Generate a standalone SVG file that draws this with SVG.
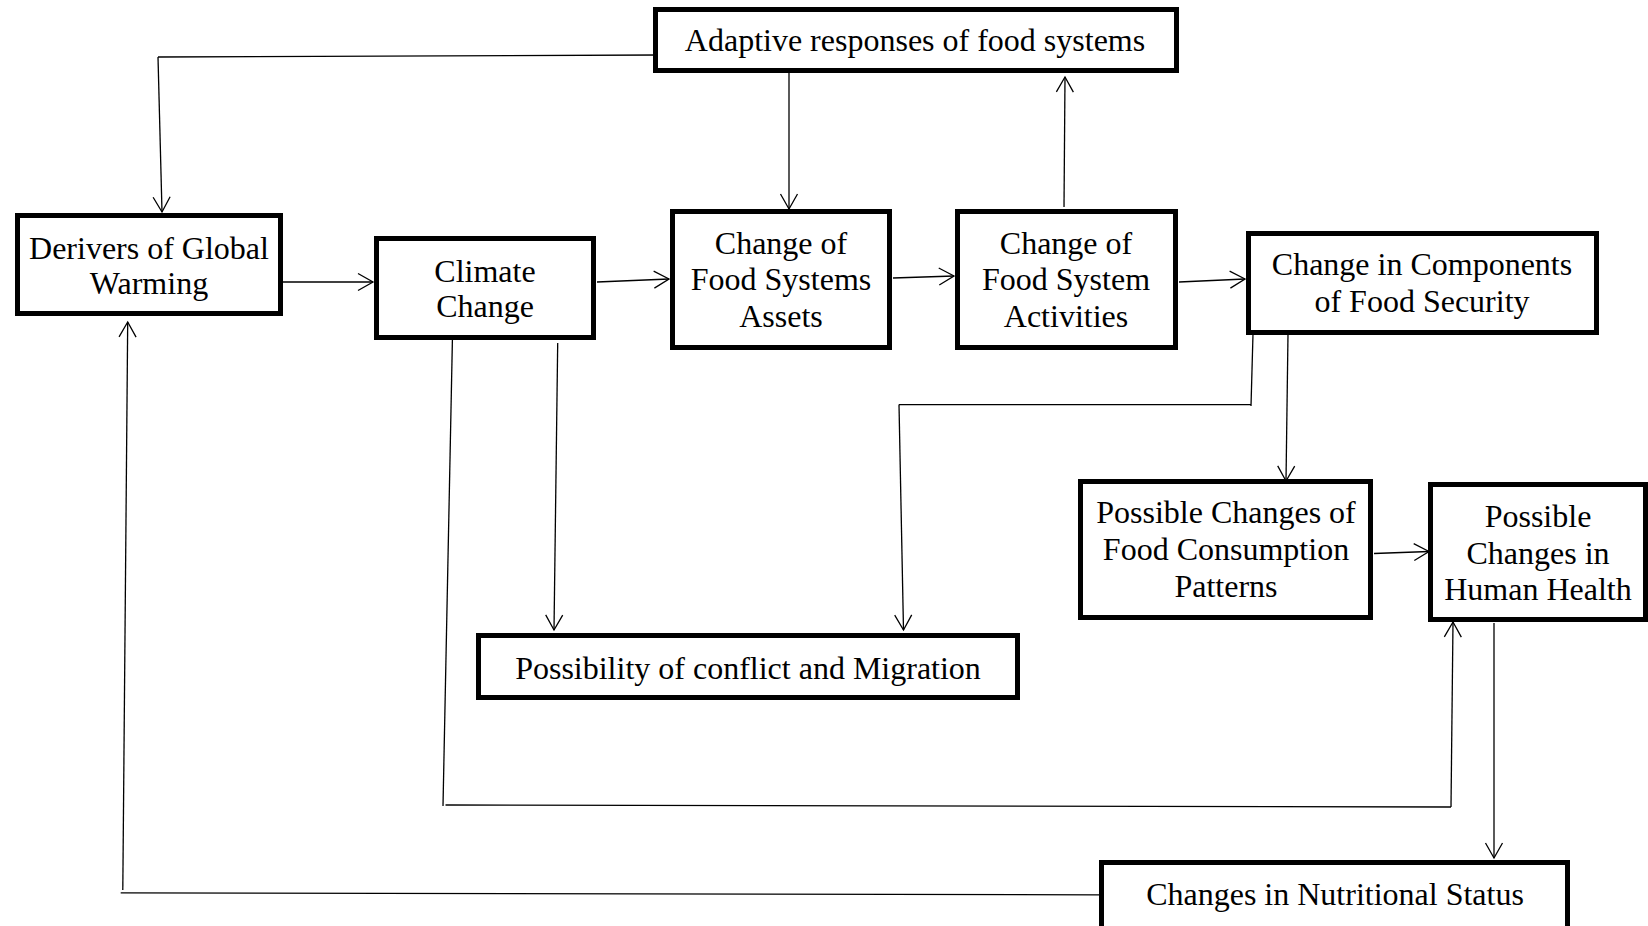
<svg xmlns="http://www.w3.org/2000/svg" width="1648" height="926" viewBox="0 0 1648 926">
<style>
.box{fill:#fff;stroke:#000;stroke-width:5}
.t{font-family:"Liberation Serif","Times New Roman",serif;font-size:32px;fill:#000;text-anchor:middle}
.c{fill:none;stroke:#000;stroke-width:1.3}
</style>
<defs>
<marker id="arr" markerUnits="userSpaceOnUse" viewBox="-17 -10 19 20" markerWidth="19" markerHeight="20" refX="0" refY="0" orient="auto">
<path d="M-15,-8.5 L0,0 L-15,8.5" fill="none" stroke="#000" stroke-width="1.3"/>
</marker>
</defs>
<rect width="1648" height="926" fill="#fff"/>
<g id="connectors">
<line class="c" x1="658" y1="55" x2="158" y2="57"/>
<line class="c" x1="158" y1="57" x2="162" y2="212" marker-end="url(#arr)"/>
<line class="c" x1="283" y1="282" x2="373" y2="282" marker-end="url(#arr)"/>
<line class="c" x1="597" y1="282" x2="669" y2="279" marker-end="url(#arr)"/>
<line class="c" x1="789" y1="73" x2="789" y2="209" marker-end="url(#arr)"/>
<line class="c" x1="893" y1="278" x2="954" y2="276" marker-end="url(#arr)"/>
<line class="c" x1="1064" y1="207" x2="1065" y2="77" marker-end="url(#arr)"/>
<line class="c" x1="1179" y1="282" x2="1245" y2="279" marker-end="url(#arr)"/>
<line class="c" x1="1253" y1="334" x2="1251" y2="406"/>
<line class="c" x1="1251" y1="404.6" x2="899" y2="404.6"/>
<line class="c" x1="899" y1="404.6" x2="903.5" y2="630" marker-end="url(#arr)"/>
<line class="c" x1="1288" y1="334" x2="1286" y2="481" marker-end="url(#arr)"/>
<line class="c" x1="557.7" y1="343" x2="554" y2="630" marker-end="url(#arr)"/>
<line class="c" x1="452.5" y1="335" x2="443" y2="806"/>
<line class="c" x1="445.5" y1="805" x2="1451" y2="807"/>
<line class="c" x1="1451" y1="807" x2="1453" y2="622" marker-end="url(#arr)"/>
<line class="c" x1="1374" y1="553.5" x2="1429" y2="551.5" marker-end="url(#arr)"/>
<line class="c" x1="1494" y1="623" x2="1494" y2="858" marker-end="url(#arr)"/>
<line class="c" x1="1100" y1="894.8" x2="120.7" y2="892.8"/>
<line class="c" x1="122.8" y1="890" x2="127.7" y2="322" marker-end="url(#arr)"/>
</g>
<g id="adaptive">
<rect class="box" x="655.5" y="9.5" width="521" height="61"/>
<text class="t" x="915" y="51">Adaptive responses of food systems</text>
</g>
<g id="derivers">
<rect class="box" x="17.5" y="215.5" width="263" height="98"/>
<text class="t" x="149" y="259">Derivers of Global</text>
<text class="t" x="149" y="294">Warming</text>
</g>
<g id="climate">
<rect class="box" x="376.5" y="238.5" width="217" height="99"/>
<text class="t" x="485" y="282">Climate</text>
<text class="t" x="485" y="317">Change</text>
</g>
<g id="assets">
<rect class="box" x="672.5" y="211.5" width="217" height="136"/>
<text class="t" x="781" y="254">Change of</text>
<text class="t" x="781" y="290">Food Systems</text>
<text class="t" x="781" y="327">Assets</text>
</g>
<g id="activities">
<rect class="box" x="957.5" y="211.5" width="218" height="136"/>
<text class="t" x="1066" y="254">Change of</text>
<text class="t" x="1066" y="290">Food System</text>
<text class="t" x="1066" y="327">Activities</text>
</g>
<g id="security">
<rect class="box" x="1248.5" y="233.5" width="348" height="99"/>
<text class="t" x="1422" y="275">Change in Components</text>
<text class="t" x="1422" y="312">of Food Security</text>
</g>
<g id="conflict">
<rect class="box" x="478.5" y="635.5" width="539" height="62"/>
<text class="t" x="748" y="679">Possibility of conflict and Migration</text>
</g>
<g id="consumption">
<rect class="box" x="1080.5" y="481.5" width="290" height="136"/>
<text class="t" x="1226" y="523">Possible Changes of</text>
<text class="t" x="1226" y="560">Food Consumption</text>
<text class="t" x="1226" y="597">Patterns</text>
</g>
<g id="health">
<rect class="box" x="1430.5" y="484.5" width="215" height="135"/>
<text class="t" x="1538" y="527">Possible</text>
<text class="t" x="1538" y="564">Changes in</text>
<text class="t" x="1538" y="600">Human Health</text>
</g>
<g id="nutrition">
<rect class="box" x="1101.5" y="862.5" width="466" height="70"/>
<text class="t" x="1335" y="905">Changes in Nutritional Status</text>
</g>
</svg>
